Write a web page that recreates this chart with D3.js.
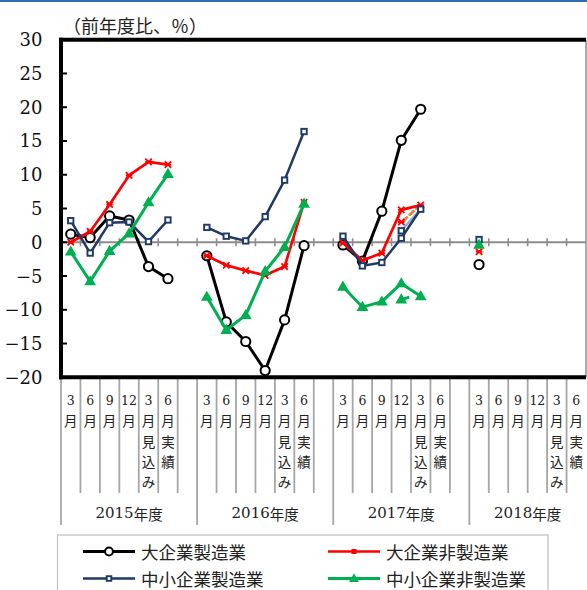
<!DOCTYPE html>
<html><head><meta charset="utf-8">
<script src="https://cdn.jsdelivr.net/npm/d3@7"></script>
<style>body{margin:0;background:#fff}svg{display:block}</style>
</head><body><svg id="c" width="587" height="590"></svg>
<script>
const years = ["2015年度","2016年度","2017年度","2018年度"];
const months = ["3月","6月","9月","12月","3月見込み","6月実績"];
const yTicks = [30,25,20,15,10,5,0,-5,-10,-15,-20];
const seriesNames = ["大企業製造業","大企業非製造業","中小企業製造業","中小企業非製造業"];
// values per fiscal year: 3月, 6月, 9月, 12月, 3月見込み, 6月実績
const largeMfg = [
  [1.2, 0.7, 3.9, 3.3, -3.6, -5.4],
  [-2.0, -11.8, -14.7, -19.0, -11.5, -0.5],
  [-0.4, -2.8, 4.6, 15.1, 19.7, null],
  [-3.3, null, null, null, null, null]];
const largeNonMfg = [
  [0.0, 1.6, 5.6, 9.9, 11.9, 11.5],
  [-2.0, -3.4, -4.2, -4.9, -3.6, 5.9],
  [-0.1, -2.7, -1.6, 4.8, 5.5, null],
  [-1.4, null, null, null, null, null]];
const smallMfg = [
  [3.2, -1.6, 2.9, 3.0, 0.1, 3.3],
  [2.2, 0.9, 0.2, 3.8, 9.2, 16.4],
  [0.9, -3.5, -3.0, 0.6, 4.9, null],
  [0.4, null, null, null, null, null]];
const smallNonMfg = [
  [-1.4, -5.8, -1.3, 1.3, 5.9, 10.1],
  [-8.1, -13.0, -10.8, -4.3, -0.7, 5.7],
  [-6.6, -9.6, -8.8, -6.1, -8.0, null],
  [-0.4, null, null, null, null, null]];
// 2017 secondary readings (12月 -> 3月見込み)
const altLargeNonMfg2017 = [3.0, 5.5];
const altSmallMfg2017 = [1.7, 4.9];
const altSmallNonMfg2017 = [-8.5, -8.0];

// build categories (blank column after each year except the last)
const cats = [];
years.forEach((yr, yi) => {
  months.forEach((m, mi) => cats.push({key: yi + "-" + mi, yi, mi, label: m}));
  if (yi < years.length - 1) cats.push({key: yi + "-b", yi, mi: -1, label: ""});
});
function flat(arr) {
  const out = [];
  cats.forEach(c => out.push({key: c.key, v: c.mi < 0 ? null : arr[c.yi][c.mi]}));
  return out;
}

const svg = d3.select("#c");
const L = 61, R = 586, T = 39.7, B = 377.3;
const x = d3.scaleBand().domain(cats.map(c => c.key)).range([L, R]).paddingInner(0).paddingOuter(0);
const y = d3.scaleLinear().domain([-20, 30]).range([B, T]);
const cx = k => x(k) + x.bandwidth() / 2;
const step = x.step();

const grayLine = "#8c8c8c";
const numFont = "'DejaVu Serif','Noto Sans CJK JP',serif";
const jpFont = "'Noto Sans CJK JP',sans-serif";

// top blue rule
svg.append("rect").attr("x", 0).attr("y", 0).attr("width", 587).attr("height", 2).attr("fill", "#2e6db4");

// right border
svg.append("line").attr("x1", R).attr("x2", R).attr("y1", T).attr("y2", B)
  .attr("stroke", "#7f7f7f").attr("stroke-width", 1.3);

// zero line with ticks
const y0 = y(0);
svg.append("line").attr("x1", L).attr("x2", R).attr("y1", y0).attr("y2", y0)
  .attr("stroke", grayLine).attr("stroke-width", 2);
d3.range(1, cats.length).forEach(i => {
  svg.append("line").attr("x1", L + i * step).attr("x2", L + i * step)
    .attr("y1", y0 - 4).attr("y2", y0 + 4).attr("stroke", grayLine).attr("stroke-width", 1.6);
});

// category separator lines below the plot
cats.forEach((c, i) => {
  const xx = L + i * step;
  const yearStart = (c.mi === 0);
  svg.append("line").attr("x1", xx).attr("x2", xx).attr("y1", B).attr("y2", yearStart ? 525 : 493)
    .attr("stroke", "#a6a6a6").attr("stroke-width", 1.8);
});

// thick axis frame
svg.append("line").attr("x1", L - 2).attr("x2", R).attr("y1", T).attr("y2", T).attr("stroke", "#000").attr("stroke-width", 4);
svg.append("line").attr("x1", L - 2).attr("x2", R).attr("y1", B).attr("y2", B).attr("stroke", "#000").attr("stroke-width", 4);
svg.append("line").attr("x1", L).attr("x2", L).attr("y1", T - 2).attr("y2", B + 2).attr("stroke", "#000").attr("stroke-width", 4);

// y ticks and labels
yTicks.forEach(t => {
  svg.append("line").attr("x1", L).attr("x2", L + 6).attr("y1", y(t)).attr("y2", y(t))
    .attr("stroke", "#000").attr("stroke-width", 2);
  svg.append("text").attr("x", 42.5).attr("y", y(t)).attr("text-anchor", "end")
    .attr("dominant-baseline", "central").attr("font-family", numFont).attr("font-size", 18)
    .attr("fill", "#111").text(t < 0 ? "\u2212" + Math.abs(t) : String(t));
});

// axis title
svg.append("text").attr("x", 63).attr("y", 25).attr("dominant-baseline", "central")
  .attr("font-family", jpFont).attr("font-size", 18).attr("fill", "#222").text("（前年度比、％）");

// series
const series = [
  {name: seriesNames[0], data: largeMfg, color: "#000", w: 3, marker: "circle"},
  {name: seriesNames[1], data: largeNonMfg, color: "#ff0000", w: 2.7, marker: "x"},
  {name: seriesNames[2], data: smallMfg, color: "#1f3864", w: 2.5, marker: "square"},
  {name: seriesNames[3], data: smallNonMfg, color: "#00b050", w: 3, marker: "triangle"}
];
const line = d3.line().defined(d => d.v !== null).x(d => cx(d.key)).y(d => y(d.v));

function drawMarker(g, type, px, py, color, scale) {
  const s = scale || 1;
  if (type === "circle") {
    g.append("circle").attr("cx", px).attr("cy", py).attr("r", 4.6 * s)
      .attr("fill", "#fff").attr("stroke", color).attr("stroke-width", 2);
  } else if (type === "square") {
    const a = 5.4 * s;
    g.append("rect").attr("x", px - a / 2).attr("y", py - a / 2).attr("width", a).attr("height", a)
      .attr("fill", "#fff").attr("stroke", color).attr("stroke-width", 1.9);
  } else if (type === "triangle") {
    g.append("path").attr("d", d3.symbol().type(d3.symbolTriangle).size(60 * s * s)())
      .attr("transform", `translate(${px},${py + 0.5})`).attr("fill", color);
  } else if (type === "x") {
    const a = 3.2 * s;
    g.append("path").attr("d", `M${px - a},${py - a}L${px + a},${py + a}M${px - a},${py + a}L${px + a},${py - a}M${px - a},${py}L${px + a},${py}`)
      .attr("stroke", color).attr("stroke-width", 1.8).attr("fill", "none");
  }
}

// 2017 secondary readings (drawn faintly under main series)
const k12 = "2-3", kMi = "2-4";
const gAlt = svg.append("g");
gAlt.append("line").attr("x1", cx(k12)).attr("x2", cx(kMi)).attr("y1", y(altSmallMfg2017[0])).attr("y2", y(altSmallMfg2017[1]))
  .attr("stroke", "#8faadc").attr("stroke-width", 2.5);
gAlt.append("line").attr("x1", cx(k12) + 2).attr("x2", cx(kMi) - 3).attr("y1", y(altLargeNonMfg2017[0]) - 1).attr("y2", y(altLargeNonMfg2017[1]) + 2)
  .attr("stroke", "#e08a3c").attr("stroke-width", 3).attr("stroke-dasharray", "5,4").attr("stroke-linecap", "round");
gAlt.append("line").attr("x1", cx(k12)).attr("x2", cx(k12) + 8).attr("y1", y(altSmallNonMfg2017[0])).attr("y2", y(altSmallNonMfg2017[0]) - 2.5)
  .attr("stroke", "#00b050").attr("stroke-width", 3);

series.forEach(s => {
  const d = flat(s.data);
  const g = svg.append("g");
  g.append("path").datum(d).attr("d", line).attr("fill", "none")
    .attr("stroke", s.color).attr("stroke-width", s.w).attr("stroke-linejoin", "round");
  d.filter(p => p.v !== null).forEach(p => drawMarker(g, s.marker, cx(p.key), y(p.v), s.color));
});
drawMarker(svg, "x", cx(k12), y(altLargeNonMfg2017[0]), "#ff0000");
drawMarker(svg, "square", cx(k12), y(altSmallMfg2017[0]), "#1f3864");
drawMarker(svg, "triangle", cx(k12), y(altSmallNonMfg2017[0]), "#00b050");

// month labels (vertical)
const rowY = [400, 420, 441, 461, 481];
cats.forEach(c => {
  if (!c.label) return;
  const m = c.label.match(/^(\d+)(.*)$/);
  const parts = [m[1]].concat(m[2].split(""));
  parts.forEach((p, i) => {
    const isNum = /\d/.test(p);
    svg.append("text").attr("x", cx(c.key)).attr("y", rowY[i]).attr("text-anchor", "middle")
      .attr("dominant-baseline", "central")
      .attr("font-family", isNum ? numFont : jpFont).attr("font-size", isNum ? 12.5 : 13.5)
      .attr("fill", "#222").text(p);
  });
});

// year labels
years.forEach((yr, yi) => {
  const ks = cats.filter(c => c.yi === yi);
  const x1 = x(ks[0].key), x2 = x(ks[ks.length - 1].key) + x.bandwidth();
  const t = svg.append("text").attr("x", (x1 + x2) / 2).attr("y", 513).attr("text-anchor", "middle")
    .attr("dominant-baseline", "central").attr("fill", "#222");
  t.append("tspan").attr("font-family", numFont).attr("font-size", 15).text(yr.slice(0, 4));
  t.append("tspan").attr("font-family", jpFont).attr("font-size", 14.5).text(yr.slice(4));
});

// legend
svg.append("rect").attr("x", 57.5).attr("y", 535).attr("width", 490.5).attr("height", 70)
  .attr("fill", "#fff").attr("stroke", "#bfbfbf").attr("stroke-width", 1.2);
const legPos = [
  {x: 83, y: 551.5}, {x: 328, y: 551.5}, {x: 83, y: 578.5}, {x: 328, y: 578.5}
];
series.forEach((s, i) => {
  const p = legPos[i];
  svg.append("line").attr("x1", p.x).attr("x2", p.x + 52).attr("y1", p.y).attr("y2", p.y)
    .attr("stroke", s.color).attr("stroke-width", s.w);
  if (s.marker === "x") {
    svg.append("rect").attr("x", p.x + 23.5).attr("y", p.y - 2.5).attr("width", 5).attr("height", 5).attr("fill", s.color);
  } else {
    drawMarker(svg, s.marker, p.x + 26, p.y, s.color, 0.85);
  }
  svg.append("text").attr("x", p.x + 58).attr("y", p.y).attr("dominant-baseline", "central")
    .attr("font-family", jpFont).attr("font-size", 17.5).attr("fill", "#222").text(s.name);
});
</script></body></html>
